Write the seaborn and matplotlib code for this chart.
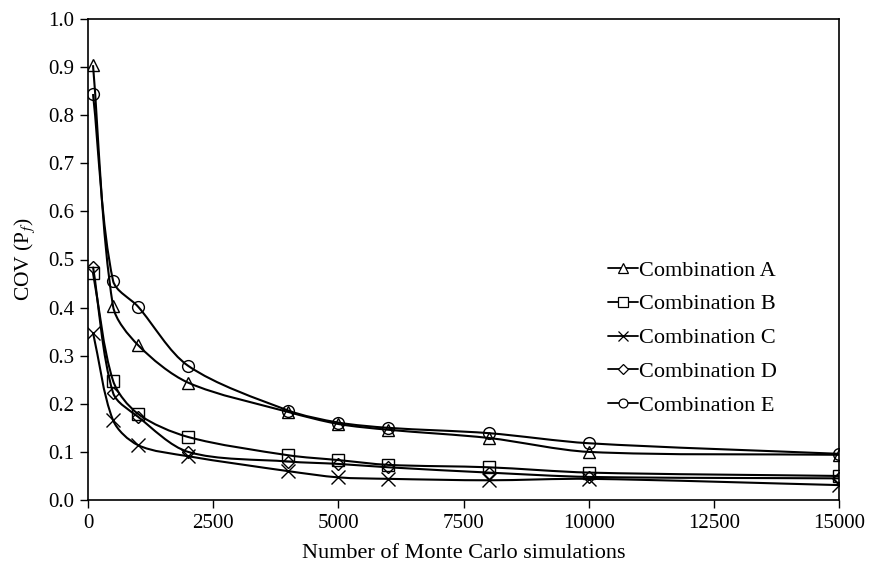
import numpy as np
import pandas as pd
import matplotlib
matplotlib.use("Agg")
import matplotlib.pyplot as plt
from matplotlib.path import Path
from matplotlib.patches import PathPatch
from matplotlib.lines import Line2D
import seaborn as sns

# 數據
sims = [100, 500, 1000, 2000, 4000, 5000, 6000, 8000, 10000, 15000]
comb_a = [0.904, 0.403, 0.322, 0.244, 0.183, 0.158, 0.146, 0.129, 0.100, 0.094]
comb_b = [0.472, 0.248, 0.179, 0.131, 0.093, 0.083, 0.073, 0.068, 0.057, 0.050]
comb_c = [0.348, 0.166, 0.114, 0.091, 0.060, 0.047, 0.044, 0.041, 0.044, 0.031]
comb_d = [0.485, 0.223, 0.173, 0.100, 0.080, 0.075, 0.068, 0.057, 0.048, 0.045]
comb_e = [0.844, 0.456, 0.402, 0.279, 0.186, 0.161, 0.150, 0.139, 0.118, 0.096]
labels = ["Combination A", "Combination B", "Combination C", "Combination D", "Combination E"]
markers = ["^", "s", "x", "D", "o"]
msizes = [9, 9, 10, 6.5, 8.5]

series = [comb_a, comb_b, comb_c, comb_d, comb_e]

sns.set_style("white")
plt.rcParams['font.family'] = ['Liberation Serif', 'DejaVu Serif']
plt.rcParams['mathtext.fontset'] = 'stix'
plt.rcParams['text.color'] = 'black'
plt.rcParams['axes.labelcolor'] = 'black'

fig = plt.figure(figsize=(8.71, 5.73), dpi=100)
ax = fig.add_axes([88 / 871, 1 - 500 / 573, 751 / 871, 481 / 573])
ax.set_xlim(0, 15000)
ax.set_ylim(0, 1.0)


def smooth_path(xs, ys, k=0.3):
    # 平滑曲線：切線方向取相鄰點，長度依線段長度縮放（螢幕座標）
    pts = ax.transData.transform(np.column_stack([xs, ys]))
    n = len(pts)
    tang = []
    for i in range(n):
        d = pts[min(i + 1, n - 1)] - pts[max(i - 1, 0)]
        tang.append(d / np.hypot(*d))
    verts = [pts[0]]
    codes = [Path.MOVETO]
    for i in range(n - 1):
        p1, p2 = pts[i], pts[i + 1]
        L = np.hypot(*(p2 - p1))
        verts += [p1 + tang[i] * L * k, p2 - tang[i + 1] * L * k, p2]
        codes += [Path.CURVE4] * 3
    verts = ax.transData.inverted().transform(np.array(verts))
    return Path(verts, codes)


handles = []
for ys, lab, m, ms in zip(series, labels, markers, msizes):
    ax.add_patch(PathPatch(smooth_path(sims, ys), fill=False, edgecolor="black", lw=1.5))
    sns.lineplot(x=sims, y=ys, ax=ax, marker=m, linestyle="", markersize=ms,
                 markerfacecolor="none", markeredgecolor="black", markeredgewidth=1.0,
                 color="black")
    handles.append(Line2D([], [], color="black", lw=1.3, marker=m, markersize=ms * 0.75,
                          markerfacecolor="white", markeredgecolor="black", markeredgewidth=0.9))

ax.set_xticks(range(0, 15001, 2500))
ax.set_yticks(np.arange(0, 1.01, 0.1))
ax.set_yticklabels([f"{v:.1f}" for v in np.arange(0, 1.01, 0.1)])
ax.tick_params(direction="out", length=6, width=1, labelsize=15, colors="black",
               bottom=True, left=True, pad=4)
for s in ax.spines.values():
    s.set_color("black")
    s.set_linewidth(1.2)

ax.set_xlabel("Number of Monte Carlo simulations", fontsize=16, labelpad=8, color="black")
ax.set_ylabel(r"COV (P$_f$)", fontsize=15.5, labelpad=8, color="black")

ax.legend(handles, labels, loc="upper left", bbox_to_anchor=(608 / 871, 1 - 260 / 573),
          bbox_transform=fig.transFigure, frameon=False, borderpad=0, borderaxespad=0,
          fontsize=16, handlelength=1.35, handletextpad=0.05, labelspacing=0.6)

fig.savefig("out.png", dpi=100)
